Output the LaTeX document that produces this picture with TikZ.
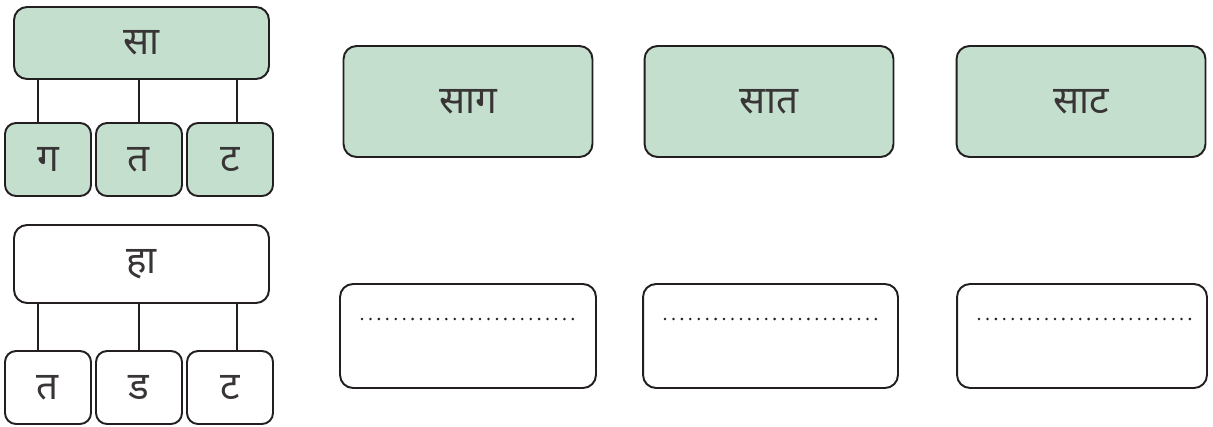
\documentclass[tikz,border=0pt]{standalone}
\usepackage{fontspec}
\newfontfamily\deva[Script=Devanagari]{Noto Sans}
\usetikzlibrary{calc}
\definecolor{boxgreen}{RGB}{196,223,206}
\definecolor{ink}{RGB}{35,31,32}
\newcommand\lowtxt[1]{\raisebox{-1.8pt}{#1}}
\begin{document}
\begin{tikzpicture}[x=0.02cm, y=-0.02cm,
  box/.style={draw=ink, line width=1.1pt, rounded corners=0.26cm, inner sep=0pt,
    text=ink!90, font=\deva\fontsize{22}{26}\selectfont},
  green/.style={box, fill=boxgreen},
  white/.style={box, fill=white},
  head/.style={minimum width=5.10cm, minimum height=1.44cm},
  leaf/.style={minimum width=1.72cm, minimum height=1.46cm, rounded corners=0.22cm},
  word/.style={minimum width=4.98cm, minimum height=2.22cm},
  answer/.style={minimum height=2.08cm},
  link/.style={draw=ink, line width=1.1pt},
  dots/.style={draw=ink, line width=1.6pt, line cap=round, dash pattern=on 0pt off 4.8pt}
]
\useasboundingbox (0,0) rectangle (1213,426);

% top-left tree
\node[green, head] (sa) at (141.5,43) {\lowtxt{सा}};
\node[green, leaf] (g1) at (48,159.5) {\lowtxt{ग}};
\node[green, leaf] (t1) at (139,159.5) {\lowtxt{त}};
\node[green, leaf] (T1) at (230,159.5) {\lowtxt{ट}};
\draw[link] (sa.south -| 38,0) -- (g1.north -| 38,0);
\draw[link] (sa.south -| 139,0) -- (t1.north -| 139,0);
\draw[link] (sa.south -| 237,0) -- (T1.north -| 237,0);

% bottom-left tree
\node[white, head, minimum height=1.56cm] (ha) at (141.5,264) {\lowtxt{हा}};
\node[white, leaf] (t2) at (48,387.5) {\lowtxt{त}};
\node[white, leaf] (d2) at (139,387.5) {\lowtxt{ड}};
\node[white, leaf] (T2) at (230,387.5) {\lowtxt{ट}};
\draw[link] (ha.south -| 38,0) -- (t2.north -| 38,0);
\draw[link] (ha.south -| 139,0) -- (d2.north -| 139,0);
\draw[link] (ha.south -| 237,0) -- (T2.north -| 237,0);

% word boxes
\node[green, word] (w1) at (468,101.5) {\lowtxt{साग}};
\node[green, word] (w2) at (769,101.5) {\lowtxt{सात}};
\node[green, word] (w3) at (1081,101.5) {\lowtxt{साट}};

% answer boxes
\node[white, answer, minimum width=5.12cm] (a1) at (468,336) {};
\node[white, answer, minimum width=5.10cm] (a2) at (770.5,336) {};
\node[white, answer, minimum width=5.00cm] (a3) at (1082,336) {};

\coordinate (a1l) at (362,319); \coordinate (a1r) at (577,319);
\coordinate (a2l) at (665,319); \coordinate (a2r) at (877,319);
\coordinate (a3l) at (979,319); \coordinate (a3r) at (1193,319);
\draw[dots] (a1l) -- (a1r);
\draw[dots] (a2l) -- (a2r);
\draw[dots] (a3l) -- (a3r);
\end{tikzpicture}
\end{document}
